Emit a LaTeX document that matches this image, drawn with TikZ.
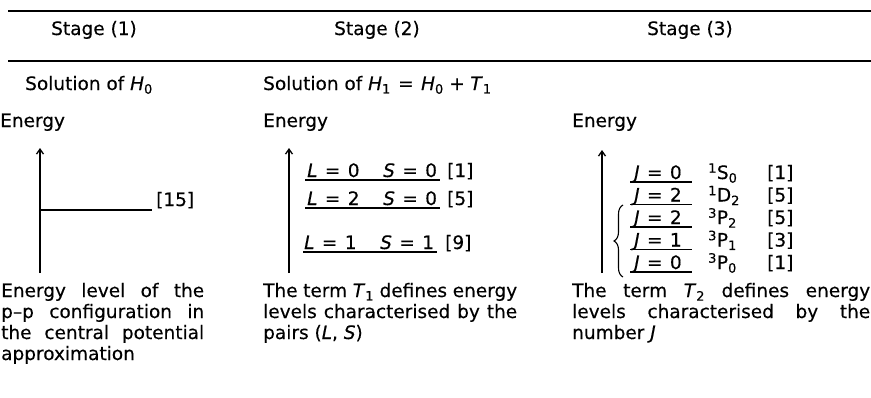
\documentclass[tikz,border=0pt]{standalone}
\usepackage{fontspec}
\setmainfont{DejaVu Sans}[FakeBold=0.35]
\usetikzlibrary{arrows.meta,decorations.pathreplacing}
\newcommand{\eqs}{\hspace{0.4em}=\hspace{0.4em}}
\newcommand{\pls}{\hspace{0.3em}+\hspace{0.3em}}
\begin{document}
\begin{tikzpicture}[x=1pt,y=-1pt,
  every node/.style={inner sep=0pt, font=\fontsize{18.5}{21}\selectfont},
  txt/.style={anchor=base west},
  hdr/.style={anchor=base},
  rulel/.style={line width=1.3pt},
  lvl/.style={line width=1.3pt},
  axis/.style={line width=1.3pt, -{Straight Barb[length=5pt,width=7pt]}},
  para/.style={anchor=base west, align=justify},
]
\useasboundingbox (0,0) rectangle (871,397);
% rules
\coordinate (r1a) at (8,11); \coordinate (r1b) at (871,11);
\coordinate (r2a) at (8,61); \coordinate (r2b) at (871,61);
\draw[rulel] (r1a) -- (r1b);
\draw[rulel] (r2a) -- (r2b);
% headers
\node[hdr] (s1) at (94,35) {Stage (1)};
\node[hdr] (s2) at (377,35) {Stage (2)};
\node[hdr] (s3) at (690,35) {Stage (3)};
% solutions
\node[txt] (sol1) at (25,90) {Solution of \textit{H}\textsubscript{0}};
\node[txt] (sol2) at (263,90) {Solution of \textit{H}\textsubscript{1}\eqs\textit{H}\textsubscript{0}\pls\textit{T}\textsubscript{1}};
% energy labels
\node[txt] (e1) at (0,127) {Energy};
\node[txt] (e2) at (263,127) {Energy};
\node[txt] (e3) at (572,127) {Energy};
% column 1
\coordinate (a1b) at (40,273); \coordinate (a1t) at (40,148);
\draw[axis] (a1b) -- (a1t);
\coordinate (l1s) at (40,210); \coordinate (l1e) at (152,210);
\draw[lvl] (l1s) -- (l1e);
\node[txt] (n15) at (156,206) {[15]};
\node[para, text width=203pt] (p1) at (1,297) {Energy level of the\linebreak p–p configuration in\linebreak the central potential\linebreak approximation};
% column 2
\coordinate (a2b) at (289,273); \coordinate (a2t) at (289,148);
\draw[axis] (a2b) -- (a2t);
\node[txt] (L0) at (307,177) {\textit{L}\eqs 0};
\node[txt] (S0a) at (383,177) {\textit{S}\eqs 0};
\node[txt] (g1) at (447,177) {[1]};
\coordinate (u1s) at (305,180); \coordinate (u1e) at (440,180);
\draw[lvl] (u1s) -- (u1e);
\node[txt] (L2) at (307,205) {\textit{L}\eqs 2};
\node[txt] (S0b) at (383,205) {\textit{S}\eqs 0};
\node[txt] (g5) at (447,205) {[5]};
\coordinate (u2s) at (305,208); \coordinate (u2e) at (440,208);
\draw[lvl] (u2s) -- (u2e);
\node[txt] (L1) at (304,249) {\textit{L}\eqs 1};
\node[txt] (S1) at (380,249) {\textit{S}\eqs 1};
\node[txt] (g9) at (445,249) {[9]};
\coordinate (u3s) at (303,252); \coordinate (u3e) at (437,252);
\draw[lvl] (u3s) -- (u3e);
\node[para, text width=254pt] (p2) at (263,297) {The term \textit{T}\textsubscript{1} defines energy\linebreak levels characterised by the\linebreak pairs (\textit{L}, \textit{S})};
% column 3
\coordinate (a3b) at (602,273); \coordinate (a3t) at (602,150);
\draw[axis] (a3b) -- (a3t);
\foreach \y/\j/\t/\g [count=\i] in {182/0/\textsuperscript{1}S\textsubscript{0}/1,
    204.5/2/\textsuperscript{1}D\textsubscript{2}/5,
    227/2/\textsuperscript{3}P\textsubscript{2}/5,
    249.5/1/\textsuperscript{3}P\textsubscript{1}/3,
    272/0/\textsuperscript{3}P\textsubscript{0}/1}{
  \node[txt] (J\i) at (634,\y-3) {\textit{J}\eqs\j};
  \node[txt] (T\i) at (708,\y-3) {\t};
  \node[txt] (G\i) at (767,\y-3) {[\g]};
  \coordinate (v\i s) at (630,\y); \coordinate (v\i e) at (692,\y);
  \draw[lvl] (v\i s) -- (v\i e);
}
\coordinate (br1) at (623,277); \coordinate (br2) at (623,205);
\draw[line width=1.1pt, decorate, decoration={brace, amplitude=9pt, aspect=0.5}] (br1) -- (br2);
\node[para, text width=298pt] (p3) at (572,297) {The term \textit{T}\textsubscript{2} defines energy\linebreak levels characterised by the\linebreak number \textit{J}};
\end{tikzpicture}
\end{document}
